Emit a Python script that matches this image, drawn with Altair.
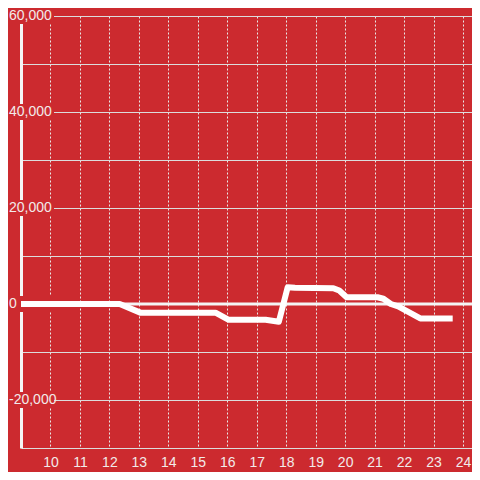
import altair as alt
import pandas as pd

# series
xs = [9.0, 12.35, 13.05, 15.6, 16.05, 17.3, 17.75, 18.05, 18.3, 19.6, 19.8, 20.05,
      21.1, 21.3, 21.55, 21.8, 22.55, 23.65]
ys = [0, 0, -1800, -1800, -3300, -3300, -3700, 3500, 3400, 3300, 2800, 1400,
      1400, 1100, 0, -500, -3000, -3000]

# y tick labels
tick_vals = [60000, 40000, 20000, 0, -20000]
tick_text = ["60,000", "40,000", "20,000", "0", "-20,000"]
grid_vals = [60000, 50000, 40000, 30000, 20000, 10000, 0, -10000, -20000, -30000]
x_ticks = list(range(10, 25))

RED = "#cc2a2f"
TXT = "#f2eaea"

line_df = pd.DataFrame({"x": xs, "y": ys})
lab_df = pd.DataFrame({"v": tick_vals, "t": tick_text})

xscale = alt.Scale(domain=[9, 24.305], nice=False, zero=False)
yscale = alt.Scale(domain=[-30000, 60000], nice=False, zero=False)

xaxis = alt.Axis(values=x_ticks, grid=True, gridColor="#e8e8e8", gridDash=[2, 2],
                 gridWidth=1, ticks=False, domain=False, labelColor=TXT,
                 labelFont="Liberation Sans", labelFontSize=14, labelPadding=7,
                 title=None, labelFlush=False)
yaxis = alt.Axis(values=grid_vals, grid=True, gridColor="#dcdcdc", gridWidth=1,
                 ticks=False, labels=False, domain=True, domainColor="#f5f5f5",
                 domainWidth=3, title=None)

base_line = alt.Chart(line_df).mark_line(color="white", strokeWidth=6,
                                         strokeCap="butt", strokeJoin="round").encode(
    x=alt.X("x:Q", scale=xscale, axis=xaxis),
    y=alt.Y("y:Q", scale=yscale, axis=yaxis),
)

boxes = alt.Chart(lab_df).mark_point(
    shape="M-1,-0.35L1,-0.35L1,0.35L-1,0.35Z", filled=True, fill=RED, opacity=1,
    strokeWidth=0, size=2116
).encode(
    x=alt.value(10),
    y=alt.Y("v:Q", scale=yscale),
)

labels = alt.Chart(lab_df).mark_text(
    align="left", baseline="middle", font="Liberation Sans", fontSize=14, color=TXT
).encode(
    x=alt.value(-12),
    y=alt.Y("v:Q", scale=yscale),
    text="t:N",
)

zero = alt.Chart(pd.DataFrame({"z": [0]})).mark_rule(color="#f4f4f4", strokeWidth=3).encode(
    y=alt.Y("z:Q", scale=yscale)
)

chart = alt.layer(boxes, labels, zero, base_line).properties(
    width=451, height=432,
    padding={"left": 13, "top": 8, "right": 0, "bottom": 24},
    autosize=alt.AutoSizeParams(type="none"),
    background=RED,
).configure_view(stroke=None)

chart.save("out.html", embed_options={"renderer": "svg", "actions": False})
